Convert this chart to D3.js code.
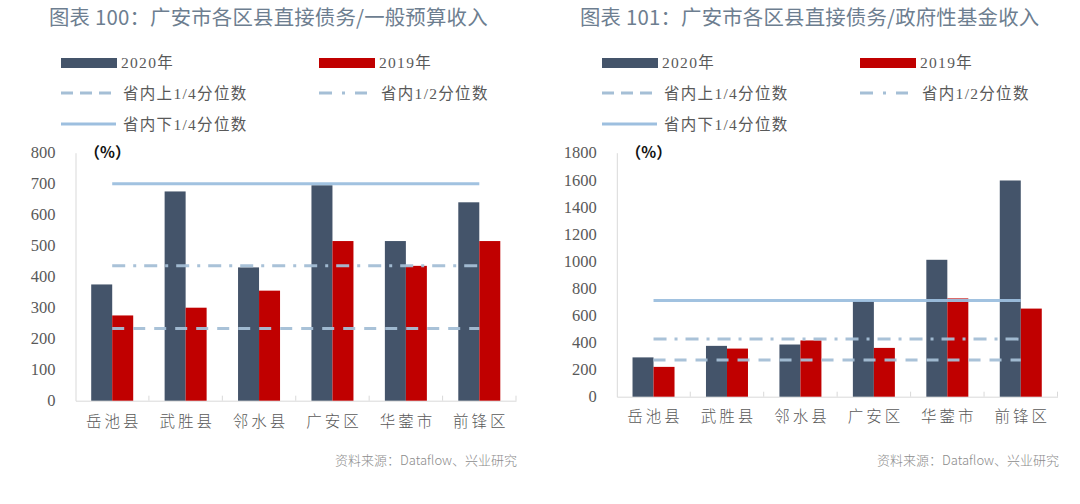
<!DOCTYPE html>
<html><head><meta charset="utf-8">
<script src="https://cdn.jsdelivr.net/npm/d3@7"></script>
<style>
html,body{margin:0;padding:0;background:#fff;}
svg{display:block;}
</style></head>
<body>
<svg id="chart" width="1080" height="504"></svg>
<script>
// ---------- data ----------
const categories = ["岳池县","武胜县","邻水县","广安区","华蓥市","前锋区"];
const seriesNames = ["2020年","2019年"];
const refNames = ["省内上1/4分位数","省内1/2分位数","省内下1/4分位数"];

const titleLeft = "图表 100：广安市各区县直接债务/一般预算收入";
const left2020 = [375, 675, 430, 695, 515, 640];
const left2019 = [275, 300, 355, 515, 435, 515];
const leftRefs = [233, 435, 700]; // 上1/4, 1/2, 下1/4
const leftTicks = [0,100,200,300,400,500,600,700,800];

const titleRight = "图表 101：广安市各区县直接债务/政府性基金收入";
const right2020 = [290, 375, 385, 705, 1010, 1595];
const right2019 = [220, 355, 415, 360, 725, 650];
const rightRefs = [270, 425, 710];
const rightTicks = [0,200,400,600,800,1000,1200,1400,1600,1800];

const sourceText = "资料来源：Dataflow、兴业研究";

// ---------- style ----------
const C2020 = "#44546a", C2019 = "#c00000";
const refColors = ["#a5bfd6", "#a5bfd6", "#9dbfdf"];
const refDash = ["12,9", "13,8,3,8", null];
const grayText = "#595959";
const serif = "\"Liberation Serif\", \"Noto Sans CJK SC\", serif";
const cjk = "\"Noto Sans CJK SC\", \"Noto Sans\", sans-serif";

const svg = d3.select("#chart");

function drawChart(o) {
  const g = svg.append("g");
  // title
  g.append("text").attr("x", o.titleX).attr("y", 25)
    .attr("font-family", cjk).attr("font-size", 20.4).attr("letter-spacing", "0.2px").attr("fill", "#6d7e90")
    .text(o.title);

  // legend
  const L = g.append("g").attr("transform", `translate(${o.legendX},0)`);
  const colX = [0, 258];
  L.append("rect").attr("x", colX[0]).attr("y", 58).attr("width", 56).attr("height", 10).attr("fill", C2020);
  L.append("text").attr("x", colX[0] + 60).attr("y", 68).text(seriesNames[0]);
  L.append("rect").attr("x", colX[1]).attr("y", 58).attr("width", 56).attr("height", 10).attr("fill", C2019);
  L.append("text").attr("x", colX[1] + 60).attr("y", 68).text(seriesNames[1]);
  L.append("line").attr("x1", colX[0]).attr("x2", colX[0] + 55).attr("y1", 93).attr("y2", 93)
    .attr("stroke", refColors[0]).attr("stroke-width", 3).attr("stroke-dasharray", "12,7");
  L.append("text").attr("x", colX[0] + 62).attr("y", 98.5).text(refNames[0]);
  L.append("line").attr("x1", colX[1]).attr("x2", colX[1] + 48).attr("y1", 93).attr("y2", 93)
    .attr("stroke", refColors[1]).attr("stroke-width", 3).attr("stroke-dasharray", "13,10,3,10");
  L.append("text").attr("x", colX[1] + 62).attr("y", 98.5).text(refNames[1]);
  L.append("line").attr("x1", colX[0]).attr("x2", colX[0] + 55).attr("y1", 124).attr("y2", 124)
    .attr("stroke", refColors[2]).attr("stroke-width", 3);
  L.append("text").attr("x", colX[0] + 62).attr("y", 129.5).text(refNames[2]);
  L.selectAll("text").attr("font-family", serif).attr("font-size", 15.5)
    .attr("letter-spacing", "1.3px").attr("fill", grayText);

  // scales
  const x = d3.scaleBand().domain(categories).range([o.x0, o.x1]).padding(0);
  const y = d3.scaleLinear().domain([0, o.ticks[o.ticks.length - 1]]).range([o.yBottom, o.yTop]);
  const bw = 21;
  const cx = c => x(c) + x.bandwidth() / 2;

  // y axis
  const ya = g.append("g").attr("transform", `translate(${o.x0},0)`)
    .call(d3.axisLeft(y).tickValues(o.ticks).tickSize(0).tickPadding(20).tickFormat(d3.format("d")));
  ya.attr("font-family", null);
  ya.select(".domain").attr("stroke", "#d9d9d9").attr("stroke-width", 1);
  ya.selectAll("text").attr("font-family", serif).attr("font-size", 16.5).attr("fill", grayText);

  // x axis
  const xa = g.append("g").attr("transform", `translate(0,${o.yBottom})`)
    .call(d3.axisBottom(x).tickSize(0).tickPadding(o.labelPad));
  xa.attr("font-family", null);
  xa.select(".domain").attr("stroke", "#d9d9d9").attr("stroke-width", 1);
  xa.selectAll("text").attr("font-family", cjk).attr("font-size", 15.5).attr("font-weight", 300)
    .attr("letter-spacing", "3px").attr("fill", grayText).attr("dx", "1.5px");
  const bounds = categories.map(c => x(c)).concat([o.x1]).slice(1);
  g.append("g").selectAll("line").data(bounds).join("line")
    .attr("x1", d => d).attr("x2", d => d).attr("y1", o.yBottom - 5).attr("y2", o.yBottom)
    .attr("stroke", "#d9d9d9");

  // bars
  g.append("g").selectAll("rect").data(categories).join("rect")
    .attr("x", c => cx(c) - bw).attr("width", bw)
    .attr("y", (c, i) => y(o.s2020[i])).attr("height", (c, i) => y(0) - y(o.s2020[i]))
    .attr("fill", C2020);
  g.append("g").selectAll("rect").data(categories).join("rect")
    .attr("x", c => cx(c)).attr("width", bw)
    .attr("y", (c, i) => y(o.s2019[i])).attr("height", (c, i) => y(0) - y(o.s2019[i]))
    .attr("fill", C2019);

  // reference lines
  const xs = cx(categories[0]), xe = cx(categories[categories.length - 1]);
  o.refs.forEach((v, i) => {
    const ln = g.append("line").attr("x1", xs).attr("x2", xe).attr("y1", y(v)).attr("y2", y(v))
      .attr("stroke", refColors[i]).attr("stroke-width", 3).attr("opacity", 0.95);
    if (refDash[i]) ln.attr("stroke-dasharray", refDash[i]);
  });

  // unit label
  g.append("text").attr("x", o.x0 + 9).attr("y", y(o.ticks[o.ticks.length - 1]) + 5)
    .attr("font-family", cjk).attr("font-size", 15.5).attr("font-weight", 700).attr("fill", "#111")
    .text("（%）");

  // source
  g.append("text").attr("x", o.sourceX).attr("y", 465)
    .attr("font-family", cjk).attr("font-size", 13).attr("font-weight", 300).attr("fill", "#8c8c8c")
    .text(sourceText);
}

drawChart({title: titleLeft, titleX: 49, legendX: 61, x0: 75.5, x1: 516, yTop: 152.7, yBottom: 400.7,
  ticks: leftTicks, s2020: left2020, s2019: left2019, refs: leftRefs, labelPad: 15, sourceX: 335});
drawChart({title: titleRight, titleX: 580, legendX: 602, x0: 616.8, x1: 1057.5, yTop: 152.7, yBottom: 396.7,
  ticks: rightTicks, s2020: right2020, s2019: right2019, refs: rightRefs, labelPad: 14, sourceX: 877});
</script>
</body></html>
